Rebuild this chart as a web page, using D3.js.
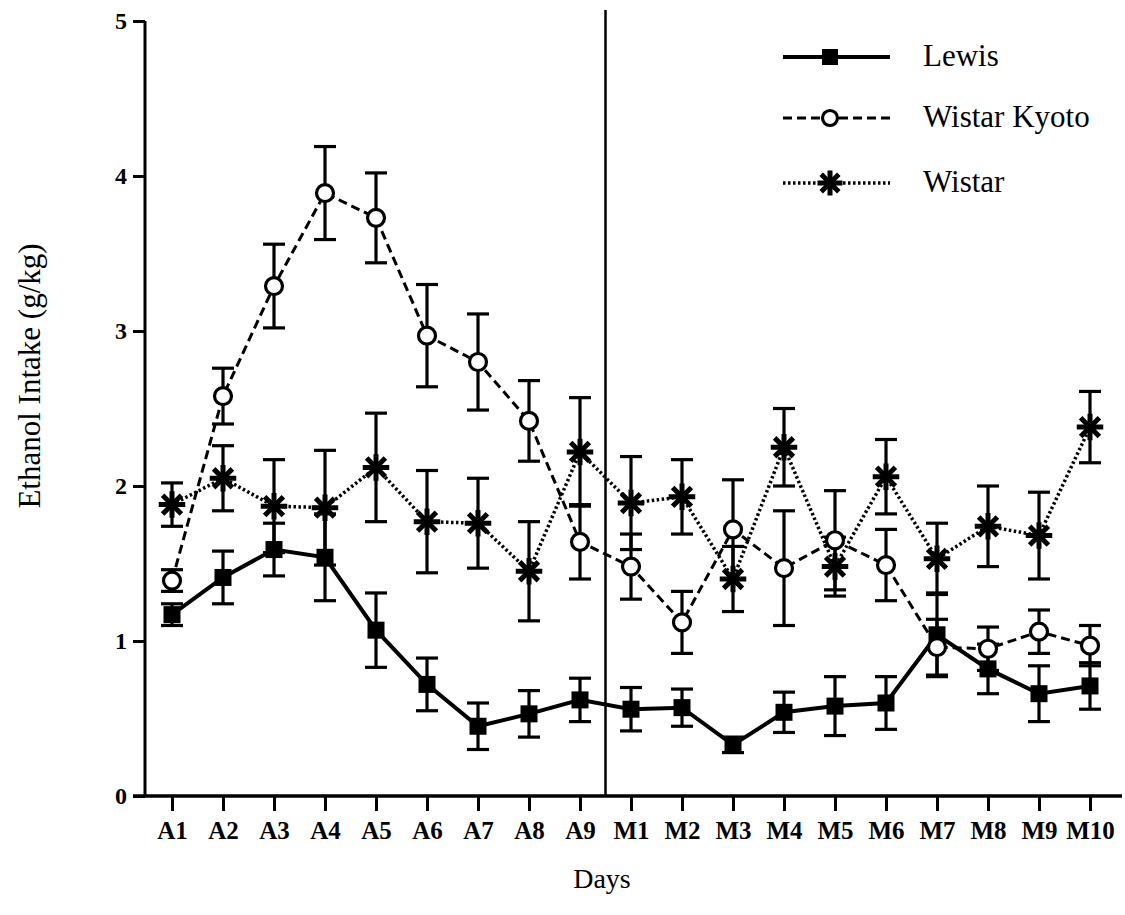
<!DOCTYPE html>
<html><head><meta charset="utf-8">
<script src="https://cdn.jsdelivr.net/npm/d3@7"></script>
<style>body{margin:0;background:#fff}svg{display:block}</style>
</head><body><svg id="c" width="1125" height="915"></svg>
<script>
const days = ["A1","A2","A3","A4","A5","A6","A7","A8","A9","M1","M2","M3","M4","M5","M6","M7","M8","M9","M10"];
const yTicks = [0,1,2,3,4,5];
const lewis     = [1.17,1.41,1.59,1.54,1.07,0.72,0.45,0.53,0.62,0.56,0.57,0.33,0.54,0.58,0.60,1.04,0.82,0.66,0.71];
const lewisErr  = [0.07,0.17,0.17,0.28,0.24,0.17,0.15,0.15,0.14,0.14,0.12,0.05,0.13,0.19,0.17,0.27,0.16,0.18,0.15];
const wky       = [1.39,2.58,3.29,3.89,3.73,2.97,2.80,2.42,1.64,1.48,1.12,1.72,1.47,1.65,1.49,0.96,0.95,1.06,0.97];
const wkyErr    = [0.07,0.18,0.27,0.30,0.29,0.33,0.31,0.26,0.24,0.21,0.20,0.32,0.37,0.32,0.23,0.18,0.14,0.14,0.13];
const wistar    = [1.88,2.05,1.87,1.86,2.12,1.77,1.76,1.45,2.22,1.89,1.93,1.40,2.25,1.48,2.06,1.53,1.74,1.68,2.38];
const wistarErr = [0.14,0.21,0.30,0.37,0.35,0.33,0.29,0.32,0.35,0.30,0.24,0.21,0.25,0.19,0.24,0.23,0.26,0.28,0.23];
const seriesNames = ["Lewis","Wistar Kyoto","Wistar"];

const svg = d3.select("#c");
const FONT = "'Liberation Serif', 'Times New Roman', serif";
const x = d3.scalePoint().domain(days).range([172, 1090]);
const y = d3.scaleLinear().domain([0,5]).range([796, 21]);

// axes
const gy = svg.append("g").attr("transform","translate(145,0)")
  .call(d3.axisLeft(y).tickValues(yTicks).tickSize(12).tickPadding(6).tickFormat(d3.format("d")));
gy.select(".domain").attr("stroke-width",3).attr("d",`M0,${y(5)}V${y(0)}`);
gy.selectAll(".tick line").attr("stroke-width",3);
gy.selectAll(".tick text").attr("font-family",FONT).attr("font-size",24).attr("font-weight","bold");

const gx = svg.append("g").attr("transform",`translate(0,${y(0)})`)
  .call(d3.axisBottom(x).tickSize(15).tickPadding(10));
gx.select(".domain").attr("stroke-width",3.5).attr("d",`M133,0H1122`);
gx.selectAll(".tick line").attr("stroke-width",3);
gx.selectAll(".tick text").attr("font-family",FONT).attr("font-size",25).attr("font-weight","bold");

// vertical divider
const xm = (x("A9")+x("M1"))/2;
svg.append("line").attr("x1",xm).attr("x2",xm).attr("y1",10).attr("y2",y(0))
  .attr("stroke","#000").attr("stroke-width",2.5);

// titles
svg.append("text").attr("x",602).attr("y",888).attr("text-anchor","middle")
  .attr("font-family",FONT).attr("font-size",28).text("Days");
svg.append("text").attr("transform","translate(40,376) rotate(-90)").attr("text-anchor","middle")
  .attr("font-family",FONT).attr("font-size",31).text("Ethanol Intake (g/kg)");

const series = [
  {name:seriesNames[0], v:lewis, e:lewisErr, dash:null, lw:4, mark:"square"},
  {name:seriesNames[1], v:wky, e:wkyErr, dash:"9,5", lw:3, mark:"circle"},
  {name:seriesNames[2], v:wistar, e:wistarErr, dash:"2.5,2.5", lw:3.5, mark:"star"}
];
const line = d3.line().x((d,i)=>x(days[i])).y(d=>y(d));

function drawMark(g, type, cx, cy, s){
  if(type==="square"){
    g.append("rect").attr("x",cx-s/2).attr("y",cy-s/2).attr("width",s).attr("height",s).attr("fill","#000");
  } else if(type==="circle"){
    g.append("circle").attr("cx",cx).attr("cy",cy).attr("r",s/2).attr("fill","#fff").attr("stroke","#000").attr("stroke-width",3.2);
  } else {
    const gg = g.append("g").attr("transform",`translate(${cx},${cy})`);
    gg.append("path").attr("d",d3.symbol(d3.symbolPlus, s*s*0.8)()).attr("fill","none").attr("stroke","#000").attr("stroke-width",5);
    gg.append("path").attr("d",d3.symbol(d3.symbolTimes, s*s*0.8)()).attr("fill","none").attr("stroke","#000").attr("stroke-width",5);
    gg.append("circle").attr("r",s*0.33).attr("fill","#000");
  }
}

// lines
series.forEach(s=>{
  svg.append("path").datum(s.v).attr("d",line).attr("fill","none").attr("stroke","#000")
    .attr("stroke-width",s.lw).attr("stroke-dasharray",s.dash);
});
// error bars
series.forEach(s=>{
  const g = svg.append("g").attr("stroke","#000").attr("stroke-width",3.2);
  s.v.forEach((v,i)=>{
    const cx = x(days[i]), y1 = y(v+s.e[i]), y2 = y(v-s.e[i]);
    g.append("line").attr("x1",cx).attr("x2",cx).attr("y1",y1).attr("y2",y2);
    g.append("line").attr("x1",cx-11).attr("x2",cx+11).attr("y1",y1).attr("y2",y1);
    g.append("line").attr("x1",cx-11).attr("x2",cx+11).attr("y1",y2).attr("y2",y2);
  });
});
// markers
series.forEach(s=>{
  const g = svg.append("g");
  s.v.forEach((v,i)=>drawMark(g, s.mark, x(days[i]), y(v), 17));
});

// legend
const legY = [57, 118, 183];
series.forEach((s,i)=>{
  const g = svg.append("g");
  g.append("line").attr("x1",783).attr("x2",890).attr("y1",legY[i]).attr("y2",legY[i])
    .attr("stroke","#000").attr("stroke-width",s.lw).attr("stroke-dasharray",s.dash);
  drawMark(g, s.mark, 830, legY[i], s.mark==="circle"?15:16);
  g.append("text").attr("x",923).attr("y",legY[i]+9).attr("font-family",FONT).attr("font-size",31).text(s.name);
});
</script></body></html>
